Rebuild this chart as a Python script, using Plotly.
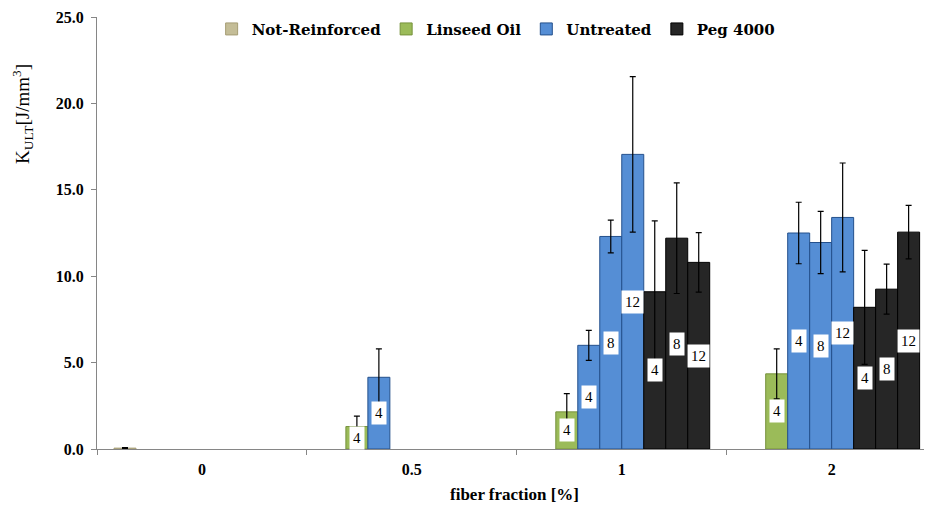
import plotly.graph_objects as go

categories = ["0", "0.5", "1", "2"]

# series (one slot each inside a category group)
series_names = ["Not-Reinforced", "Linseed Oil", "Untreated", "Untreated", "Untreated",
                "Peg 4000", "Peg 4000", "Peg 4000"]
series_labels = ["", "4", "4", "8", "12", "4", "8", "12"]
not_reinforced = [0.05, None, None, None]
linseed_4 = [None, 1.3, 2.15, 4.35]
untreated_4 = [None, 4.15, 6.0, 12.5]
untreated_8 = [None, None, 12.3, 11.95]
untreated_12 = [None, None, 17.05, 13.4]
peg_4 = [None, None, 9.1, 8.2]
peg_8 = [None, None, 12.2, 9.25]
peg_12 = [None, None, 10.8, 12.55]

err_not_reinforced = [0.03, None, None, None]
err_linseed_4 = [None, 0.6, 1.05, 1.45]
err_untreated_4 = [None, 1.65, 0.87, 1.78]
err_untreated_8 = [None, None, 0.95, 1.8]
err_untreated_12 = [None, None, 4.5, 3.15]
err_peg_4 = [None, None, 4.1, 3.3]
err_peg_8 = [None, None, 3.2, 1.45]
err_peg_12 = [None, None, 1.72, 1.55]

values = [not_reinforced, linseed_4, untreated_4, untreated_8, untreated_12, peg_4, peg_8, peg_12]
errors = [err_not_reinforced, err_linseed_4, err_untreated_4, err_untreated_8,
          err_untreated_12, err_peg_4, err_peg_8, err_peg_12]

fill_colors = {"Not-Reinforced": "#C4BD97", "Linseed Oil": "#9BBB59",
               "Untreated": "#558ED5", "Peg 4000": "#262626"}
line_colors = {"Not-Reinforced": "#A59D74", "Linseed Oil": "#76923C",
               "Untreated": "#24508C", "Peg 4000": "#000000"}

BARGAP = 0.162
n_slots = len(values)
slot_w = (1 - BARGAP) / n_slots

SERIF = "Liberation Serif, Times New Roman, serif"
WIDE_SERIF = "DejaVu Serif, serif"

fig = go.Figure()
seen = set()
annotations = []
for j, (name, lab, vals, errs) in enumerate(zip(series_names, series_labels, values, errors)):
    show = name not in seen
    seen.add(name)
    fig.add_trace(go.Bar(
        x=categories, y=vals, name=name, legendgroup=name, showlegend=show,
        marker=dict(color=fill_colors[name], line=dict(color=line_colors[name], width=1)),
        error_y=dict(type="data", array=[e if e is not None else 0 for e in errs],
                     color="#000000", thickness=1.2, width=3),
    ))
    if lab:
        for i, v in enumerate(vals):
            if v is None:
                continue
            annotations.append(dict(
                x=i + (j - (n_slots - 1) / 2) * slot_w, y=v / 2, xref="x", yref="y",
                text=lab, showarrow=False, bgcolor="white", borderpad=3,
                font=dict(family=SERIF, size=15, color="#000000"),
            ))

# y-axis title (placed near the top, as in the reference)
annotations.append(dict(
    x=-0.089, y=0.775, xref="paper", yref="paper", textangle=-90,
    xanchor="center", yanchor="middle",
    text="K<sub>ULT</sub>[J/mm<sup>3</sup>]", showarrow=False,
    font=dict(family=SERIF, size=19, color="#000000"),
))
# x-axis title
annotations.append(dict(
    x=0.5, y=-0.105, xref="paper", yref="paper", yanchor="middle",
    text="<b>fiber fraction [%]</b>", showarrow=False,
    font=dict(family=SERIF, size=17, color="#000000"),
))

fig.update_layout(
    width=924, height=500,
    margin=dict(l=89, r=0, t=9, b=59),
    paper_bgcolor="white", plot_bgcolor="white",
    barmode="group", bargap=BARGAP, bargroupgap=0,
    showlegend=True,
    legend=dict(orientation="h", x=0.478, xanchor="center", y=1.01, yanchor="top",
                font=dict(family=WIDE_SERIF, size=15, color="#000000", weight="bold"),
                itemwidth=30, traceorder="normal", bgcolor="rgba(0,0,0,0)"),
    annotations=annotations,
    xaxis=dict(
        type="category", range=[-0.5, 3.478], tickson="boundaries", automargin=False,
        ticks="outside", ticklen=5, tickcolor="#868686",
        showline=True, linecolor="#868686", linewidth=1, showgrid=False,
        tickfont=dict(family=SERIF, size=16, color="#000000", weight="bold"),
        ticklabelstandoff=6,
    ),
    yaxis=dict(
        range=[0, 25], dtick=5, tickformat=".1f", automargin=False,
        ticks="outside", ticklen=5, tickcolor="#868686",
        showline=True, linecolor="#868686", linewidth=1, showgrid=False, zeroline=False,
        tickfont=dict(family=SERIF, size=16, color="#000000", weight="bold"),
        ticklabelstandoff=4,
    ),
)

fig.write_html("out.html")
